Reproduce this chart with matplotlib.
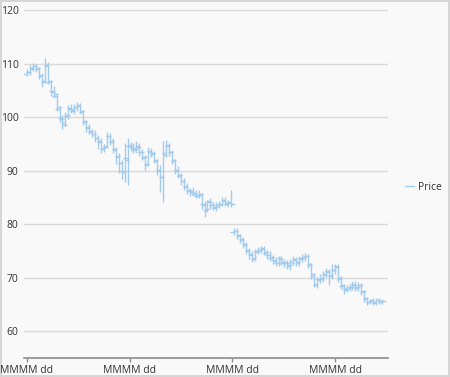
import matplotlib.pyplot as plt
from matplotlib.lines import Line2D

plt.rcParams["font.family"] = ["Open Sans", "DejaVu Sans"]

# OHLC values, one bar per trading day
opens = [108.0, 108.5, 109.2, 109.6, 109.0, 107.6, 106.8, 109.5, 106.5, 104.9,
         104.0, 101.6, 99.8, 98.9, 100.2, 101.7, 101.2, 101.9, 102.2, 101.0,
         99.0, 98.1, 97.2, 96.9, 96.0, 95.5, 94.0, 94.6, 96.5, 95.4,
         94.0, 92.6, 91.4, 89.9, 92.3, 94.6, 94.5, 93.8, 94.6, 93.4,
         92.4, 91.2, 93.7, 93.1, 91.8, 90.2, 88.9, 93.2, 94.6, 93.4,
         91.8, 90.2, 89.0, 88.1, 87.2, 86.1, 86.2, 85.7, 85.3, 85.4,
         83.8, 82.7, 84.3, 83.6, 83.0, 83.6, 83.8, 84.5, 83.7, 84.2,
         78.5, 78.8, 77.7, 77.2, 76.3, 75.0, 74.4, 73.5, 74.9, 75.2,
         75.5, 74.6, 74.3, 73.6, 73.3, 72.7, 73.6, 72.8, 72.8, 72.1,
         73.0, 73.4, 72.8, 73.6, 73.7, 74.1, 72.4, 70.4, 68.7, 69.7,
         69.8, 70.6, 71.2, 70.3, 71.5, 72.2, 69.8, 68.4, 67.9, 68.1,
         68.2, 68.8, 68.1, 68.7, 67.3, 66.0, 65.4, 65.8, 65.3, 65.9, 65.5]
closes = [108.4, 109.0, 109.5, 109.2, 107.8, 106.5, 109.8, 106.8, 104.7, 104.4,
          101.8, 99.6, 98.6, 100.4, 101.5, 101.4, 101.8, 102.0, 101.1, 99.2,
          97.9, 97.4, 96.8, 96.1, 95.4, 94.2, 94.4, 96.4, 95.6, 93.9,
          92.7, 91.5, 89.7, 92.0, 94.8, 94.3, 94.0, 94.4, 93.5, 92.6,
          91.0, 93.5, 93.3, 92.0, 90.0, 88.8, 93.0, 94.8, 93.5, 92.0,
          90.0, 89.2, 88.0, 87.0, 86.3, 86.0, 85.8, 85.5, 85.6, 83.6,
          82.9, 84.1, 83.5, 83.2, 83.5, 83.7, 84.4, 83.9, 84.0, 83.8,
          78.7, 77.9, 77.1, 76.1, 75.1, 74.2, 73.6, 74.8, 75.1, 75.4,
          74.8, 74.2, 73.8, 73.2, 72.8, 73.5, 72.9, 72.7, 72.3, 72.9,
          73.3, 72.9, 73.4, 73.8, 74.0, 72.6, 70.6, 68.9, 69.5, 69.9,
          70.5, 71.0, 70.5, 71.4, 72.0, 69.9, 68.6, 67.7, 68.0, 68.3,
          68.6, 68.3, 68.6, 67.5, 66.2, 65.5, 65.6, 65.4, 65.8, 65.6, 65.6]
highs = [109.0, 109.8, 110.1, 110.0, 109.4, 108.3, 111.0, 110.2, 107.0, 105.8,
         104.3, 102.0, 100.3, 101.0, 102.2, 102.4, 102.5, 102.8, 102.6, 101.4,
         99.5, 98.7, 97.8, 97.5, 96.6, 96.1, 95.0, 97.2, 97.0, 96.0,
         94.5, 93.2, 92.0, 95.1, 96.0, 95.3, 95.1, 95.5, 95.2, 94.0,
         93.0, 94.4, 94.3, 93.6, 92.2, 91.0, 95.6, 95.8, 95.2, 93.9,
         92.2, 90.8, 89.6, 88.6, 87.7, 86.8, 86.9, 86.4, 86.3, 85.8,
         84.4, 84.6, 84.9, 84.1, 84.2, 84.3, 85.0, 85.1, 84.6, 86.4,
         79.2, 79.3, 78.1, 77.6, 76.7, 75.5, 74.9, 75.3, 75.8, 76.0,
         76.0, 75.2, 74.9, 74.2, 73.8, 74.1, 74.0, 73.4, 73.3, 73.5,
         74.0, 73.9, 74.1, 74.5, 74.6, 74.5, 72.8, 70.9, 70.2, 70.6,
         71.2, 71.8, 71.6, 72.6, 72.6, 72.5, 70.3, 68.9, 68.7, 68.9,
         69.3, 69.3, 69.2, 69.0, 67.7, 66.4, 66.1, 66.2, 66.2, 66.3, 66.0]
lows = [107.6, 107.9, 108.6, 108.5, 107.2, 105.6, 106.4, 106.2, 104.0, 103.6,
        101.2, 99.0, 97.8, 98.3, 99.7, 100.8, 100.6, 101.2, 100.5, 98.6,
        97.3, 96.8, 96.2, 95.3, 94.0, 93.2, 93.5, 94.2, 94.8, 93.2,
        91.3, 89.6, 88.4, 87.9, 87.3, 93.6, 93.2, 93.2, 92.8, 91.9,
        90.2, 90.8, 92.5, 91.4, 89.2, 86.0, 84.1, 92.6, 92.8, 91.3,
        89.4, 88.6, 87.3, 86.4, 85.7, 85.3, 85.2, 84.8, 84.9, 82.9,
        81.3, 82.2, 82.9, 82.6, 82.5, 83.0, 83.3, 83.3, 83.2, 83.2,
        78.0, 77.3, 76.4, 75.5, 74.4, 73.5, 73.0, 73.1, 74.4, 74.7,
        74.2, 73.5, 73.1, 72.5, 72.1, 72.1, 72.3, 72.0, 71.6, 71.5,
        72.4, 72.2, 72.2, 73.0, 73.2, 71.8, 69.8, 68.2, 68.0, 69.1,
        69.2, 70.1, 68.6, 69.8, 70.6, 69.2, 67.9, 67.0, 67.3, 67.5,
        67.7, 67.6, 67.5, 66.8, 65.5, 64.9, 65.0, 64.9, 64.9, 65.0, 65.1]

tick_pos = [0, 34.7, 69.4, 104.1]
tick_labels = ["MMMM dd"] * 4

bar_color = "#a3cbec"
grid_color = "#d9d9d9"
text_color = "#333333"

fig = plt.figure(figsize=(4.5, 3.77), dpi=100, facecolor="#f9f9f9")
fig.patch.set_edgecolor("#d6d6d6")
fig.patch.set_linewidth(1.5)
ax = fig.add_axes([24 / 450, 19 / 377, 364 / 450, 348 / 377])
ax.set_facecolor("#f9f9f9")

x = list(range(len(closes)))
half = 1.4
ax.vlines(x, lows, highs, color=bar_color, lw=1)
ax.hlines(opens, [i - half for i in x], x, color=bar_color, lw=1)
ax.hlines(closes, x, [i + half for i in x], color=bar_color, lw=1)

ax.set_xlim(-1, 122)
ax.set_ylim(55, 120)
ax.set_yticks([60, 70, 80, 90, 100, 110, 120])
ax.yaxis.grid(True, color=grid_color, lw=1)
ax.set_axisbelow(True)
ax.set_xticks(tick_pos)
ax.set_xticklabels(tick_labels)

for s in ["top", "right", "left"]:
    ax.spines[s].set_visible(False)
ax.spines["bottom"].set_color("#8c8c8c")
ax.spines["bottom"].set_linewidth(1.2)
ax.tick_params(axis="y", length=0, pad=4, labelsize=7.5, labelcolor=text_color)
ax.tick_params(axis="x", length=3, width=1, color="#8c8c8c", pad=2,
               labelsize=7.5, labelcolor=text_color)

handle = Line2D([], [], color=bar_color, lw=1)
fig.legend([handle], ["Price"], loc="center left", bbox_to_anchor=(396 / 450, 1 - 187 / 377),
           frameon=False, fontsize=7.5, handlelength=0.8, handletextpad=0.4,
           labelcolor=text_color)

fig.savefig("out.png", dpi=100, facecolor=fig.get_facecolor(), edgecolor=fig.patch.get_edgecolor())
